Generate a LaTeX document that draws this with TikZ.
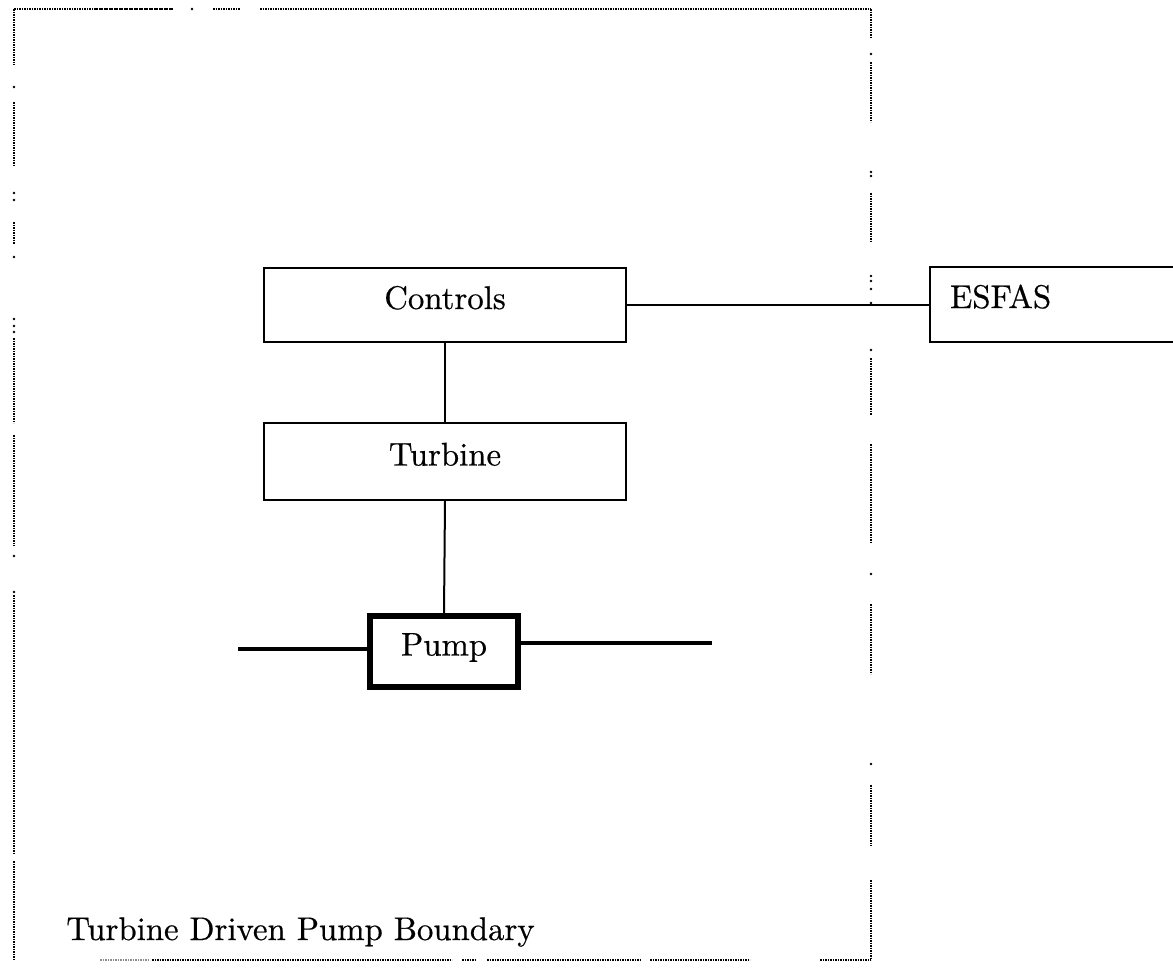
\documentclass[tikz,border=0pt]{standalone}
\usepackage{fontspec}
\newfontfamily\figfont{lmroman10-regular.otf}[FakeBold=0.5]
\begin{document}
\begin{tikzpicture}[x=0.5pt,y=-0.5pt,
  txt/.style={font=\figfont\fontsize{16.4}{20}\selectfont},
  box/.style={draw, line width=1pt, rectangle, inner sep=0pt, txt, text height=8pt, text depth=4pt},
  pumpbox/.style={box, line width=3pt},
  wire/.style={line width=1pt},
  pipe/.style={line width=2pt},
  bd/.style={line width=1.1pt, dash pattern=on 0.8pt off 0.45pt},
  bdl/.style={bd, black!45},
  bdot/.style={fill=black}
]
\useasboundingbox (0,0) rectangle (1173,971);
\clip (0,0) rectangle (1173,971);

% boundary (dotted, broken as in the scan)
\draw[bd] (14,9) -- (173,9);
\fill[bdot] (192,9) circle[radius=0.7pt];
\draw[bd] (213,9) -- (240,9);
\draw[bd] (260,9) -- (871,9);

\draw[bd] (871,9) -- (871,37);
\fill[bdot] (871,54) circle[radius=0.7pt];
\draw[bd] (871,62) -- (871,122);
\fill[bdot] (871,172) circle[radius=0.7pt];
\fill[bdot] (871,176) circle[radius=0.7pt];
\draw[bd] (871,193) -- (871,242);
\fill[bdot] (871,276) circle[radius=0.7pt];
\fill[bdot] (871,281) circle[radius=0.7pt];
\fill[bdot] (871,289) circle[radius=0.7pt];
\fill[bdot] (871,303) circle[radius=0.7pt];
\fill[bdot] (871,350) circle[radius=0.7pt];
\draw[bd] (871,358) -- (871,415);
\draw[bd] (871,444) -- (871,542);
\fill[bdot] (871,574) circle[radius=0.7pt];
\draw[bd] (871,604) -- (871,674);
\fill[bdot] (871,764) circle[radius=0.7pt];
\draw[bd] (871,785) -- (871,846);
\draw[bd] (871,880) -- (871,960);

\draw[bd] (14,9) -- (14,65);
\fill[bdot] (14,87) circle[radius=0.7pt];
\draw[bd] (14,102) -- (14,166);
\fill[bdot] (14,193) circle[radius=0.7pt];
\fill[bdot] (14,200) circle[radius=0.7pt];
\draw[bd] (14,222) -- (14,244);
\fill[bdot] (14,257) circle[radius=0.7pt];
\fill[bdot] (14,319) circle[radius=0.7pt];
\fill[bdot] (14,326) circle[radius=0.7pt];
\fill[bdot] (14,332) circle[radius=0.7pt];
\draw[bd] (14,338) -- (14,423);
\draw[bd] (14,435) -- (14,546);
\fill[bdot] (14,556) circle[radius=0.7pt];
\fill[bdot] (14,592) circle[radius=0.7pt];
\draw[bd] (14,595) -- (14,854);
\draw[bd] (14,861) -- (14,960);

\draw[bdl] (100,960) -- (150,960);
\draw[bd] (152,960) -- (452,960);
\draw[bd] (462,960) -- (476,960);
\draw[bd] (487,960) -- (640,960);
\draw[bd] (650,960) -- (750,960);
\draw[bd] (820,960) -- (871,960);

% blocks
\node[box, minimum width=181pt, minimum height=37pt] (ctrl) at (445,305) {Controls};
\node[box, minimum width=181pt, minimum height=38.5pt] (turb) at (445,461.5) {Turbine};
\node[pumpbox, minimum width=74pt, minimum height=35.5pt] (pump) at (444,651.5) {Pump};
\node[box, minimum width=130pt, minimum height=37.5pt, text width=110pt, align=left, inner xsep=10pt] (esfas) at (1060,304) {ESFAS};

\node[txt, anchor=base west, inner sep=0pt] (lbl) at (66,940) {Turbine Driven Pump Boundary};

% connectors
\draw[wire] (ctrl.south) -- (turb.north);
\draw[wire] (turb.south) -- (pump.north);
\draw[wire] (ctrl.east) -- (ctrl.east -| esfas.west);

\coordinate (pin) at (238,649);
\coordinate (pout) at (712,643);
\draw[pipe] (pin) -- (pin -| pump.west);
\draw[pipe] (pump.east |- pout) -- (pout);
\end{tikzpicture}
\end{document}
